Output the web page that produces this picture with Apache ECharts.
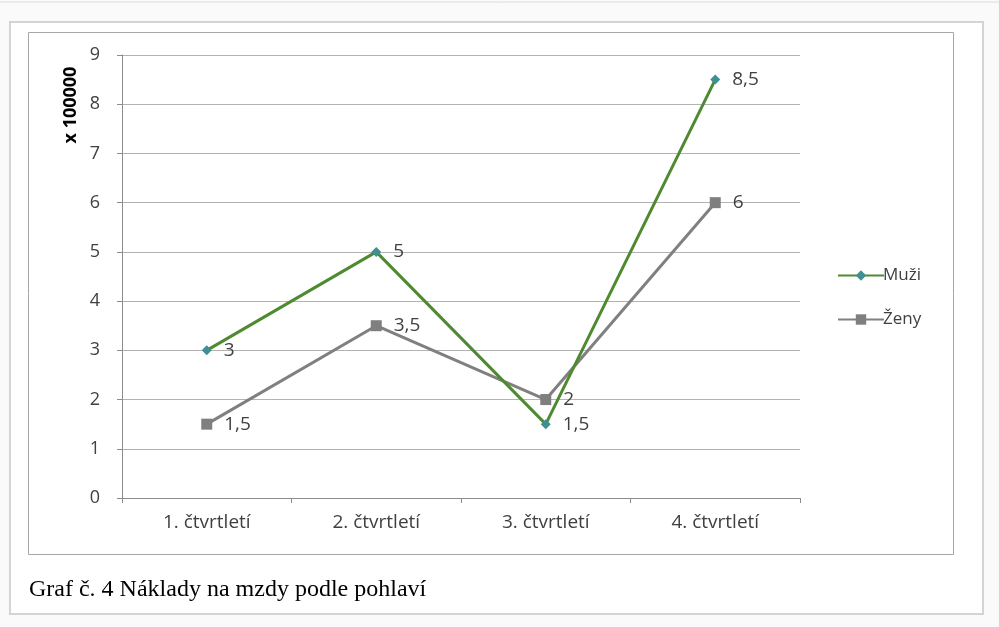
<!DOCTYPE html>
<html>
<head>
<meta charset="utf-8">
<style>
  html, body { margin: 0; padding: 0; background: #fafafa; }
  #chart { width: 999px; height: 627px; }
</style>
<script src="https://cdn.jsdelivr.net/npm/echarts@6/dist/echarts.min.js"></script>
</head>
<body>
<div id="chart"></div>
<script>
// Quarterly wage costs by gender (in hundreds of thousands)
const categories = ['1. čtvrtletí', '2. čtvrtletí', '3. čtvrtletí', '4. čtvrtletí'];
const muzi = [3, 5, 1.5, 8.5];
const zeny = [1.5, 3.5, 2, 6];
const yTicks = { min: 0, max: 9, interval: 1 };
const axisTitle = 'x 100000';
const caption = 'Graf č. 4 Náklady na mzdy podle pohlaví';

const chart = echarts.init(document.getElementById('chart'), null, { renderer: 'canvas' });

const labelFont = '"Open Sans", "Noto Sans", sans-serif';
const fmt = v => String(v).replace('.', ',');

const dataLabel = {
  show: true,
  position: 'right',
  distance: 12,
  color: '#404040',
  fontSize: 19,
  fontFamily: labelFont,
  formatter: p => fmt(p.value)
};

chart.setOption({
  backgroundColor: '#fafafa',
  animation: false,
  graphic: [
    { type: 'line', shape: { x1: 0, y1: 2, x2: 999, y2: 2 }, style: { stroke: '#dcdcdc', lineWidth: 1 }, z: -10 },
    { type: 'rect', shape: { x: 10, y: 22, width: 973, height: 592 },
      style: { fill: '#ffffff', stroke: '#d4d4d4', lineWidth: 2 }, z: -10 },
    { type: 'rect', shape: { x: 28.5, y: 32.5, width: 925, height: 522 },
      style: { fill: '#ffffff', stroke: '#a6a6a6', lineWidth: 1 }, z: -9 },
    { type: 'text', x: 71, y: 105, rotation: Math.PI / 2,
      style: { text: axisTitle, fill: '#000', font: 'bold 18px "Open Sans", "Noto Sans", sans-serif',
               textAlign: 'center', textVerticalAlign: 'middle' } },
    { type: 'text', x: 29, y: 590,
      style: { text: caption, fill: '#000', font: '24px "Liberation Serif", "DejaVu Serif", serif',
               textAlign: 'left', textVerticalAlign: 'middle' } }
  ],
  legend: {
    orient: 'vertical',
    left: 832,
    top: 262,
    itemWidth: 46,
    itemHeight: 13,
    itemGap: 27,
    textStyle: { fontSize: 17, color: '#404040', fontFamily: labelFont, padding: [0, 0, 0, -6] },
    data: ['Muži', 'Ženy']
  },
  grid: { left: 122, right: 199, top: 55, bottom: 129, containLabel: false },
  xAxis: {
    type: 'category',
    data: categories,
    boundaryGap: true,
    axisLine: { lineStyle: { color: '#8c8c8c', width: 1 } },
    axisTick: { show: true, alignWithLabel: false, length: 5, lineStyle: { color: '#8c8c8c' } },
    axisLabel: { color: '#404040', fontSize: 19, fontFamily: labelFont, margin: 15 }
  },
  yAxis: {
    type: 'value',
    min: yTicks.min,
    max: yTicks.max,
    interval: yTicks.interval,
    axisLine: { show: true, lineStyle: { color: '#8c8c8c', width: 1 } },
    axisTick: { show: true, length: 5, lineStyle: { color: '#8c8c8c' } },
    splitLine: { lineStyle: { color: '#b3b3b3', width: 1 } },
    axisLabel: { color: '#404040', fontSize: 18, fontFamily: labelFont, margin: 22 }
  },
  series: [
    {
      name: 'Muži',
      type: 'line',
      data: muzi,
      symbol: 'diamond',
      symbolSize: 10,
      lineStyle: { color: '#4e8a2f', width: 3 },
      itemStyle: { color: '#3f8f94' },
      label: dataLabel,
      z: 3
    },
    {
      name: 'Ženy',
      type: 'line',
      data: zeny,
      symbol: 'rect',
      symbolSize: 11,
      lineStyle: { color: '#808080', width: 3 },
      itemStyle: { color: '#7f7f7f' },
      label: dataLabel,
      z: 2
    }
  ]
});
</script>
</body>
</html>
